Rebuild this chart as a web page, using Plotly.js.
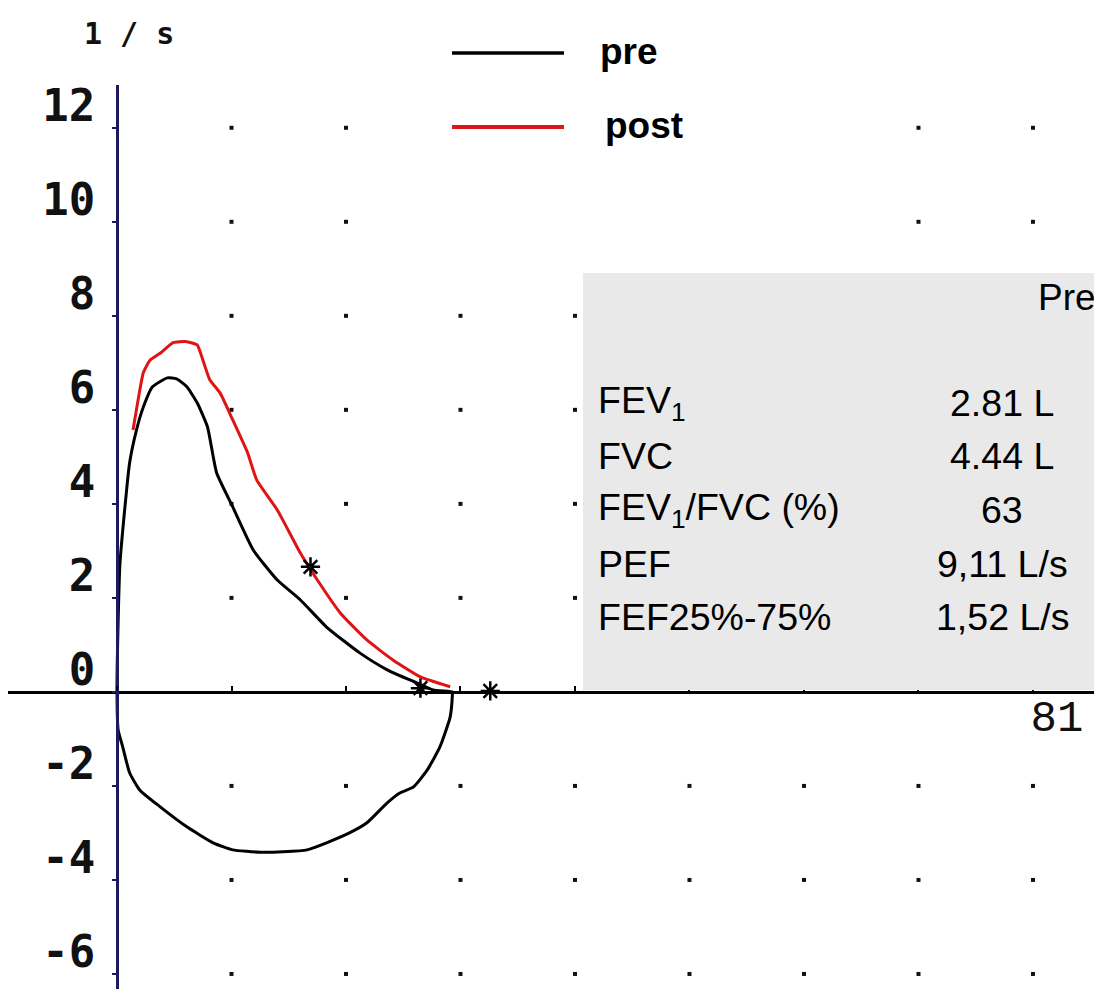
<!DOCTYPE html>
<html><head><meta charset="utf-8">
<script src="https://cdn.plot.ly/plotly-3.0.1.min.js"></script>
<style>html,body{margin:0;padding:0;background:#fff;overflow:hidden}#chart{width:1094px;height:989px}</style>
</head><body><div id="chart"></div>
<script>
// ---- data (volume in L, flow in l/s) ----
const seriesNames = ["pre", "post"];
const preVolume = [0, 0.01, 0.026, 0.11, 0.17, 0.23, 0.31, 0.44, 0.52, 0.61, 0.70, 0.79, 0.87, 1.01, 1.19, 1.40, 1.60, 1.83, 2.12, 2.36, 2.62, 2.76, 2.93, 2.93, 2.91, 2.82, 2.71, 2.59, 2.47, 2.36, 2.18, 2.03, 1.83, 1.66, 1.45, 1.25, 1.01, 0.84, 0.61, 0.38, 0.20, 0.11, 0.05, 0.01, 0];
const preFlow   = [0, 1.5, 2.74, 4.87, 5.57, 6.06, 6.49, 6.68, 6.66, 6.49, 6.15, 5.64, 4.66, 3.94, 3.02, 2.38, 1.96, 1.38, 0.83, 0.47, 0.19, 0.04, 0.0, -0.02, -0.53, -1.17, -1.66, -2.02, -2.15, -2.36, -2.79, -3.00, -3.21, -3.36, -3.40, -3.41, -3.36, -3.21, -2.87, -2.45, -2.09, -1.72, -1.17, -0.81, 0];
const postVolume = [0.14, 0.18, 0.23, 0.29, 0.38, 0.49, 0.61, 0.70, 0.75, 0.81, 0.90, 1.01, 1.14, 1.22, 1.40, 1.60, 1.75, 1.95, 2.18, 2.41, 2.65, 2.91];
const postFlow   = [5.57, 6.15, 6.79, 7.06, 7.21, 7.43, 7.45, 7.38, 7.06, 6.64, 6.36, 5.79, 5.09, 4.51, 3.87, 2.96, 2.38, 1.68, 1.11, 0.68, 0.32, 0.11];
const starVolume = [1.69, 2.65, 3.26];
const starFlow   = [2.66, 0.08, 0.02];
const gridVolumes = [1, 2, 3, 4, 5, 6, 7, 8];
const gridFlows   = [12, 10, 8, 6, 4, 2, -2, -4, -6];
const yTickVals = [12, 10, 8, 6, 4, 2, 0, -2, -4, -6];
const yTickText = ["12", "10", "8", "6", "4", "2", "0", "-2", "-4", "-6"];
const xTickVals = [8];
const xTickText = ["81"];
const yUnit = "1 / s";
const tableHeader = "Pre";
const tableLabels = ["FEV<sub>1</sub>", "FVC", "FEV<sub>1</sub>/FVC (%)", "PEF", "FEF25%-75%"];
const tableValues = ["2.81 L", "4.44 L", "63", "9,11 L/s", "1,52 L/s"];

// ---- layout helpers (pixel -> paper) ----
const W = 1094, H = 989, ML = 8, MT = 85;
const PX = x => (x - ML) / (W - ML);
const PY = y => (H - y) / (H - MT);

const gx = [], gy = [];
gridFlows.forEach(f => gridVolumes.forEach(v => { gx.push(v); gy.push(f); }));

const traces = [
  {x: gx, y: gy, mode: 'markers', type: 'scatter', hoverinfo: 'skip', showlegend: false,
   marker: {symbol: 'square', size: 4, color: '#111'}},
  {x: preVolume, y: preFlow, mode: 'lines', type: 'scatter', name: seriesNames[0], showlegend: false,
   line: {color: '#000', width: 3, shape: 'spline', smoothing: 0.5}},
  {x: postVolume, y: postFlow, mode: 'lines', type: 'scatter', name: seriesNames[1], showlegend: false,
   line: {color: '#e01414', width: 3, shape: 'spline', smoothing: 0.5}},
  {x: starVolume, y: starFlow, mode: 'markers', type: 'scatter', showlegend: false, hoverinfo: 'skip',
   marker: {symbol: 'asterisk-open', size: 16, color: '#000', line: {color: '#000', width: 2.5}}}
];

const annotations = [
  {xref: 'paper', yref: 'paper', x: PX(129), y: PY(33), text: yUnit, showarrow: false,
   xanchor: 'center', yanchor: 'middle', font: {family: 'DejaVu Sans Mono', size: 30, color: '#111', weight: 'bold'}},
  {xref: 'paper', yref: 'paper', x: PX(598), y: PY(52), text: '<b>' + seriesNames[0] + '</b>', showarrow: false,
   xanchor: 'left', yanchor: 'middle', font: {family: 'Liberation Sans, Arial', size: 37, color: '#000'}},
  {xref: 'paper', yref: 'paper', x: PX(603), y: PY(126), text: '<b>' + seriesNames[1] + '</b>', showarrow: false,
   xanchor: 'left', yanchor: 'middle', font: {family: 'Liberation Sans, Arial', size: 37, color: '#000'}},
  {xref: 'paper', yref: 'paper', x: PX(1036), y: PY(297), text: tableHeader, showarrow: false,
   xanchor: 'left', yanchor: 'middle', font: {family: 'Liberation Sans, Arial', size: 37, color: '#000'}}
];
tableLabels.forEach((lab, i) => {
  const yc = 403 + i * 53.5;
  annotations.push({xref: 'paper', yref: 'paper', x: PX(596), y: PY(yc), text: lab, showarrow: false,
    xanchor: 'left', yanchor: 'middle', font: {family: 'Liberation Sans, Arial', size: 37.5, color: '#000'}});
  annotations.push({xref: 'paper', yref: 'paper', x: PX(1002), y: PY(yc), text: tableValues[i], showarrow: false,
    xanchor: 'center', yanchor: 'middle', font: {family: 'Liberation Sans, Arial', size: 37.5, color: '#000'}});
});

const layout = {
  width: W, height: H,
  margin: {l: ML, r: 0, t: MT, b: 0, pad: 0},
  paper_bgcolor: '#fff', plot_bgcolor: '#fff',
  showlegend: false,
  xaxis: {
    range: [-0.952, 8.533], anchor: 'free', position: PY(692),
    showline: true, linecolor: '#000', linewidth: 3, showgrid: false, zeroline: false,
    tickmode: 'array', tickvals: xTickVals, ticktext: xTickText,
    ticks: 'inside', ticklen: 5, tickwidth: 2, tickcolor: '#000',
    minor: {tick0: 0, dtick: 1, ticks: 'inside', ticklen: 5, tickwidth: 2, tickcolor: '#000', showgrid: false},
    ticklabelshift: 24, ticklabelstandoff: -16,
    tickfont: {family: 'Liberation Mono', size: 44, color: '#111'}
  },
  yaxis: {
    range: [-6.32, 12.91], anchor: 'free', position: PX(117),
    showline: true, linecolor: '#1b1b5e', linewidth: 3, showgrid: false, zeroline: false,
    tickmode: 'array', tickvals: yTickVals, ticktext: yTickText,
    ticks: 'outside', ticklen: 4, tickwidth: 2, tickcolor: '#1b1b5e',
    ticklabelshift: -22, ticklabelstandoff: 8,
    tickfont: {family: 'DejaVu Sans Mono', size: 44, color: '#111', weight: 'bold'}
  },
  shapes: [
    {type: 'rect', xref: 'paper', yref: 'paper', x0: PX(400), x1: PX(860), y0: PY(255), y1: PY(0),
     fillcolor: '#ffffff', line: {width: 0}, layer: 'above'},
    {type: 'rect', xref: 'paper', yref: 'paper', x0: PX(583), x1: 1.02, y0: PY(690), y1: PY(273),
     fillcolor: '#e9e9e9', line: {width: 0}, layer: 'above'},
    {type: 'line', xref: 'paper', yref: 'paper', x0: PX(452), x1: PX(564), y0: PY(53), y1: PY(53),
     line: {color: '#000', width: 3.5}, layer: 'above'},
    {type: 'line', xref: 'paper', yref: 'paper', x0: PX(452), x1: PX(564), y0: PY(127), y1: PY(127),
     line: {color: '#d81818', width: 4}, layer: 'above'}
  ],
  annotations: annotations
};

Plotly.newPlot('chart', traces, layout, {displayModeBar: false, staticPlot: true});
</script></body></html>
